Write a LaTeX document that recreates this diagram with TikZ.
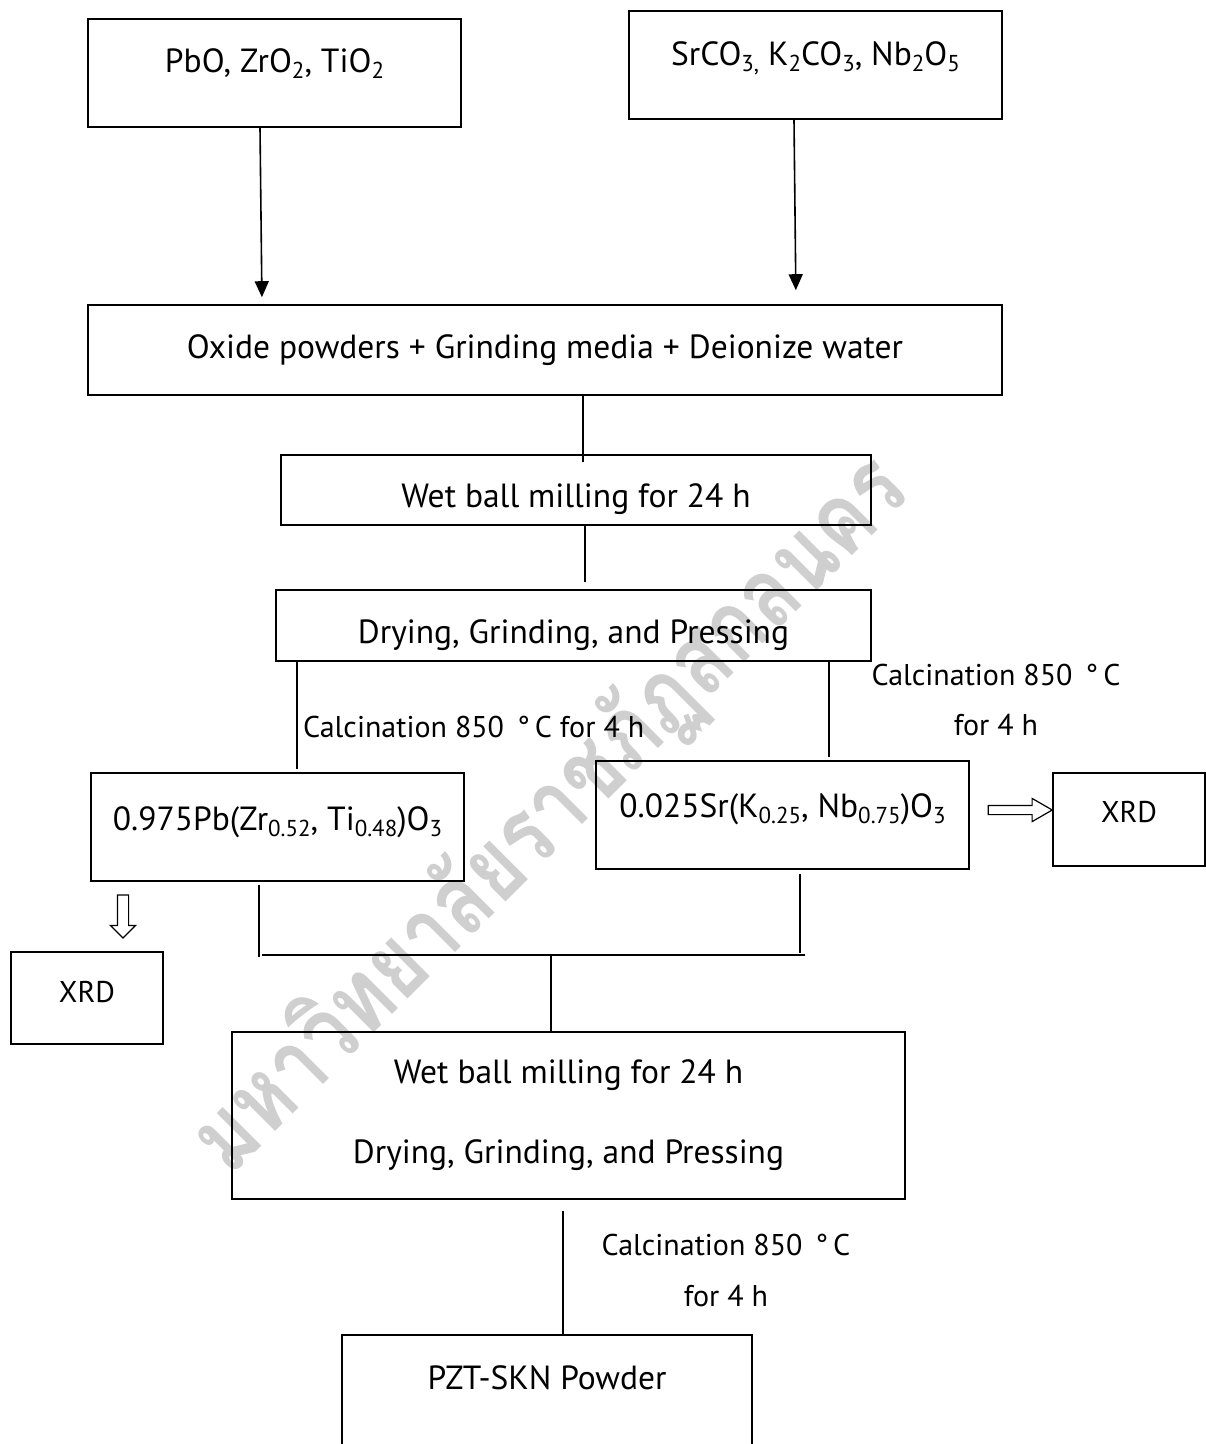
\documentclass[tikz,border=0pt]{standalone}
\usepackage{fontspec}
\setmainfont{PT Sans}
\newfontfamily\thaifont[Script=Thai]{Loma}
\usepackage{graphicx}
\usetikzlibrary{arrows.meta,shapes.arrows}
\newcommand\chsub[1]{\raisebox{-6pt}{\fontsize{23}{24}\selectfont #1}}
\begin{document}
\begin{tikzpicture}[x=1pt,y=-1pt,
  every node/.style={font=\fontsize{30}{36}\selectfont},
  frame/.style={draw, line width=1.6pt, inner sep=0pt},
  box/.style={frame, text height=40pt, font=\fontsize{33.5}{40}\selectfont},
  smallbox/.style={frame, text height=40pt},
  conn/.style={line width=1.6pt},
  arr/.style={conn, -{Triangle[width=14pt,length=16pt]}},
  hollow/.style={single arrow, draw, line width=1.2pt, inner sep=5pt, outer sep=0pt},
  lbl/.style={inner sep=0pt}
]
\useasboundingbox (0,0) rectangle (1206,1444);
\clip (0,0) rectangle (1206,1444);

% watermark
\node[rotate=45, text=black!19, inner sep=0pt] (wm) at (550,815)
  {\scalebox{1}[1.25]{\resizebox{965pt}{!}{\thaifont\bfseries มหาวิทยาลัยราชภัฏสกลนคร}}};

% boxes
\node[box, minimum width=373pt, minimum height=108pt, text depth=42pt] (b1) at (274.5,73)
  {PbO, ZrO\chsub{2}, TiO\chsub{2}};
\node[box, minimum width=373pt, minimum height=108pt, text depth=40pt] (b2) at (815.5,65)
  {SrCO\chsub{3,} K\chsub{2}CO\chsub{3}, Nb\chsub{2}O\chsub{5}};
\node[box, minimum width=914pt, minimum height=90pt, text depth=24pt] (b3) at (545,350)
  {Oxide powders + Grinding media + Deionize water};
\node[box, minimum width=590pt, minimum height=70pt, text depth=6pt] (b4) at (576,490)
  {Wet ball milling for 24 h};
\node[box, minimum width=595pt, minimum height=71pt, text depth=5pt] (b5) at (573.5,625.5)
  {Drying, Grinding, and Pressing};
\node[box, minimum width=373pt, minimum height=108pt, text depth=34pt] (b6) at (277.5,827)
  {0.975Pb(Zr\chsub{0.52}, Ti\chsub{0.48})O\chsub{3}};
\node[box, minimum width=373pt, minimum height=108pt, text depth=36pt] (b7) at (782.5,815)
  {0.025Sr(K\chsub{0.25}, Nb\chsub{0.75})O\chsub{3}};
\node[smallbox, minimum width=152pt, minimum height=93pt, text depth=35pt] (xr) at (1129,819.5) {XRD};
\node[smallbox, minimum width=152pt, minimum height=92pt, text depth=32pt] (xl) at (87,998) {XRD};
\node[frame, font=\fontsize{33.5}{40}\selectfont, minimum width=673pt, minimum height=167pt, align=center] (b8) at (568.5,1115.5)
  {Wet ball milling for 24 h\\[40pt]Drying, Grinding, and Pressing};
\node[box, minimum width=410pt, minimum height=140pt, text depth=72pt] (b9) at (547,1405)
  {PZT-SKN Powder};

% labels
\node[lbl, anchor=base west] (cal1) at (303,737) {Calcination 850 \,°\,C for 4 h};
\node[lbl, anchor=base] (cal2a) at (996,685) {Calcination 850 \,°\,C};
\node[lbl, anchor=base] (cal2b) at (996,735) {for 4 h};
\node[lbl, anchor=base] (cal3a) at (726,1255) {Calcination 850 \,°\,C};
\node[lbl, anchor=base] (cal3b) at (726,1306) {for 4 h};

% connectors
\draw[arr, shorten >=7pt] (260,0 |- b1.south) -- (262,0 |- b3.north);
\draw[arr, shorten >=14pt] (794,0 |- b2.south) -- (796,0 |- b3.north);
\draw[conn, shorten >=-8pt] (583,0 |- b3.south) -- (583,0 |- b4.north);
\draw[conn, shorten >=7pt] (585,0 |- b4.south) -- (585,0 |- b5.north);
\draw[conn, shorten >=3pt] (297,0 |- b5.south) -- (297,0 |- b6.north);
\draw[conn, shorten >=3pt, shorten <=-2pt] (829,0 |- b5.south) -- (829,0 |- b7.north);

\coordinate (jl) at (259,957);
\coordinate (jr) at (800,953);
\coordinate (hl) at (262,955);
\coordinate (hr) at (805,955);
\coordinate (jm) at (551,955);
\draw[conn, shorten <=3pt] (259,0 |- b6.south) -- (jl);
\draw[conn, shorten <=4pt] (800,0 |- b7.south) -- (jr);
\draw[conn] (hl) -- (hr);
\draw[conn] (jm) -- (551,0 |- b8.north);
\draw[conn, shorten <=11pt] (563,0 |- b8.south) -- (563,0 |- b9.north);

% hollow arrows
\node[hollow, inner sep=4pt, single arrow head extend=7pt, single arrow tip angle=60,
      minimum height=64pt, anchor=tip] (ha) at (xr.west |- 0,810) {};
\node[hollow, shape border rotate=270, single arrow head extend=7pt,
      minimum height=43pt, anchor=tip] (va) at (123,938) {};
\end{tikzpicture}
\end{document}
